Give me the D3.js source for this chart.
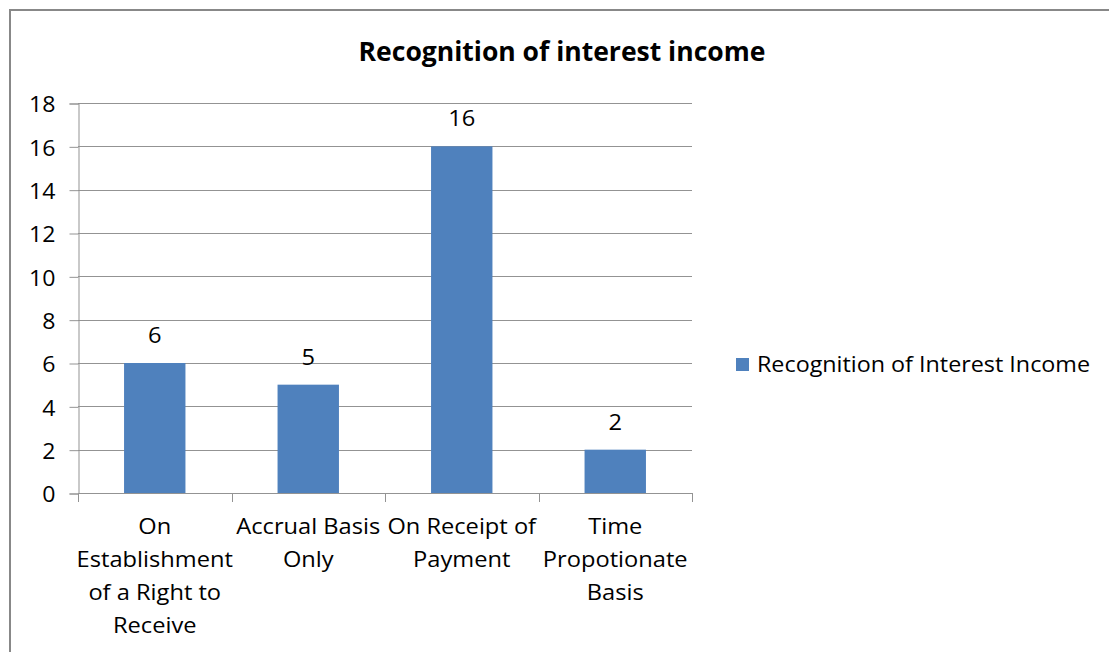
<!DOCTYPE html>
<html>
<head>
<meta charset="utf-8">
<script src="https://cdn.jsdelivr.net/npm/d3@7"></script>
<style>
  html, body { margin: 0; padding: 0; background: #fff; }
  svg { display: block; font-family: "Open Sans", sans-serif; }
</style>
</head>
<body>
<svg id="chart" width="1109" height="652"></svg>
<script>
// Survey responses: how entities recognise interest income
const categories = [
  ["On", "Establishment", "of a Right to", "Receive"],
  ["Accrual Basis", "Only"],
  ["On Receipt of", "Payment"],
  ["Time", "Propotionate", "Basis"]
];
const values = [6, 5, 16, 2];
const yTicks = [0, 2, 4, 6, 8, 10, 12, 14, 16, 18];
const seriesName = "Recognition of Interest Income";
const title = "Recognition of interest income";

const font = "'Open Sans', sans-serif";
const svg = d3.select("#chart");
const barColor = "#4F81BD";
const gridColor = "#939393";
const textStretch = 1.1;

// widen a text element horizontally around its own anchor x
function stretch(sel, sx) {
  sel.each(function () {
    const ax = +d3.select(this).attr("x") || 0;
    d3.select(this).attr("transform", `translate(${ax * (1 - sx)},0) scale(${sx},1)`);
  });
}

// chart frame
svg.append("rect")
  .attr("x", 10).attr("y", 10)
  .attr("width", 1109).attr("height", 700)
  .attr("fill", "#fff")
  .attr("stroke", "#888").attr("stroke-width", 2);

const plot = { left: 78, right: 692, top: 103, bottom: 493 };

const x = d3.scaleBand()
  .domain(d3.range(values.length))
  .range([plot.left, plot.right])
  .paddingInner(0.6)
  .paddingOuter(0.3);

const xOuter = d3.scaleBand()
  .domain(d3.range(values.length))
  .range([plot.left, plot.right]);

const y = d3.scaleLinear()
  .domain([0, 18])
  .range([plot.bottom, plot.top]);

// horizontal gridlines
svg.append("g")
  .selectAll("line")
  .data(yTicks.filter(t => t > 0))
  .join("line")
  .attr("x1", plot.left).attr("x2", plot.right)
  .attr("y1", d => Math.round(y(d)) + 0.5)
  .attr("y2", d => Math.round(y(d)) + 0.5)
  .attr("stroke", gridColor).attr("stroke-width", 1);

// y axis
const yAxis = svg.append("g")
  .attr("transform", `translate(${plot.left + 0.5},0.5)`)
  .call(d3.axisLeft(y).tickValues(yTicks).tickSize(9).tickPadding(14));
yAxis.attr("font-family", font).attr("font-size", 21);
yAxis.select(".domain").attr("stroke", gridColor);
yAxis.selectAll(".tick line").attr("stroke", gridColor);
yAxis.selectAll(".tick text").attr("fill", "#000").attr("dy", "0.4em");
stretch(yAxis.selectAll(".tick text"), textStretch);

// bars
svg.append("g")
  .selectAll("rect")
  .data(values)
  .join("rect")
  .attr("x", (d, i) => x(i))
  .attr("y", d => y(d))
  .attr("width", x.bandwidth())
  .attr("height", d => y(0) - y(d))
  .attr("fill", barColor);

// x axis baseline and category ticks
svg.append("line")
  .attr("x1", plot.left).attr("x2", plot.right)
  .attr("y1", plot.bottom + 0.5).attr("y2", plot.bottom + 0.5)
  .attr("stroke", gridColor);
svg.append("g")
  .selectAll("line")
  .data(d3.range(values.length + 1))
  .join("line")
  .attr("x1", i => Math.round(i < values.length ? xOuter(i) : plot.right) + 0.5)
  .attr("x2", i => Math.round(i < values.length ? xOuter(i) : plot.right) + 0.5)
  .attr("y1", plot.bottom).attr("y2", plot.bottom + 9)
  .attr("stroke", gridColor);

// category labels
const catG = svg.append("g");
categories.forEach((lines, i) => {
  const cx = xOuter(i) + xOuter.bandwidth() / 2;
  const t = catG.append("text")
    .attr("x", cx)
    .attr("text-anchor", "middle")
    .attr("font-size", 21.5)
    .attr("fill", "#000");
  lines.forEach((ln, k) => {
    t.append("tspan")
      .attr("x", cx)
      .attr("y", 534 + k * 33)
      .text(ln);
  });
});
stretch(catG.selectAll("text"), textStretch);

// value labels
const valG = svg.append("g");
valG.selectAll("text")
  .data(values)
  .join("text")
  .attr("x", (d, i) => x(i) + x.bandwidth() / 2)
  .attr("y", d => y(d) - 20)
  .attr("text-anchor", "middle")
  .attr("font-size", 21.5)
  .attr("fill", "#000")
  .text(d => d);
stretch(valG.selectAll("text"), textStretch);

// title
const titleText = svg.append("text")
  .attr("x", 562).attr("y", 61)
  .attr("text-anchor", "middle")
  .attr("font-size", 26)
  .attr("font-weight", "bold")
  .attr("fill", "#000")
  .text(title);
stretch(titleText, 1.02);

// legend
const lg = svg.append("g");
lg.append("rect")
  .attr("x", 736).attr("y", 358)
  .attr("width", 13).attr("height", 13)
  .attr("fill", barColor);
const lgText = lg.append("text")
  .attr("x", 757).attr("y", 372)
  .attr("font-size", 21.5)
  .attr("fill", "#000")
  .text(seriesName);
stretch(lgText, 1.085);
</script>
</body>
</html>
